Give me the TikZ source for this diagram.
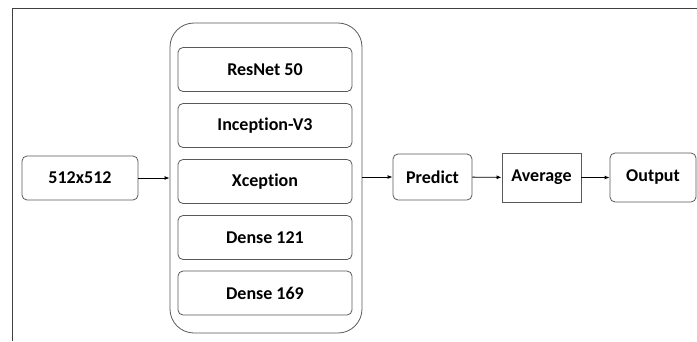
\documentclass[tikz,border=0pt]{standalone}
\usepackage{fontspec}
\setmainfont{Carlito}[Ligatures=NoCommon]
\usepackage{tikz}
\usetikzlibrary{arrows.meta,positioning}

\begin{document}
\begin{tikzpicture}[
  x=1pt, y=-1pt,
  frame/.style={draw=black!75, line width=0.9pt},
  block/.style={draw=black!65, line width=0.8pt, rounded corners=5pt,
    inner sep=0pt, font=\fontsize{18}{20}\selectfont\bfseries},
  plainblock/.style={block, rounded corners=0pt},
  model/.style={block, minimum width=174pt, minimum height=44pt},
  flow/.style={-{Latex[length=5pt,width=4pt]}, draw=black, line width=0.9pt}
]
\useasboundingbox (0,0) rectangle (697,341);

% Page frame
\draw[frame] (12,341) -- (12,8) -- (697,8);

% Input image size
\node[block, minimum width=116pt, minimum height=44pt] (input) at (80,178) {512x512};

% Ensemble of backbones
\node[block, rounded corners=24pt, minimum width=192pt, minimum height=310pt] (ensemble) at (266,178) {};
\node[model] (resnet) at (265,69.5) {ResNet 50};
\node[model] (inception) at (265,125.5) {Inception-V3};
\node[model] (xception) at (265,181.5) {Xception};
\node[model] (dense121) at (265,237.5) {Dense 121};
\node[model] (dense169) at (265,293) {Dense 169};

% Prediction stage
\node[block, minimum width=79pt, minimum height=46pt] (predict) at (432.5,177) {Predict};
\node[plainblock, minimum width=79pt, minimum height=49pt] (average) at (541.5,177.5) {Average};
\node[block, minimum width=86pt, minimum height=49pt] (output) at (653,177.5) {Output};

% Connectors
\draw[flow] (input.east) -- (input.east -| ensemble.west);
\draw[flow] (ensemble.east |- predict.west) -- (predict.west);
\draw[flow] (predict) -- (average);
\draw[flow] (average) -- (output);

\end{tikzpicture}
\end{document}
